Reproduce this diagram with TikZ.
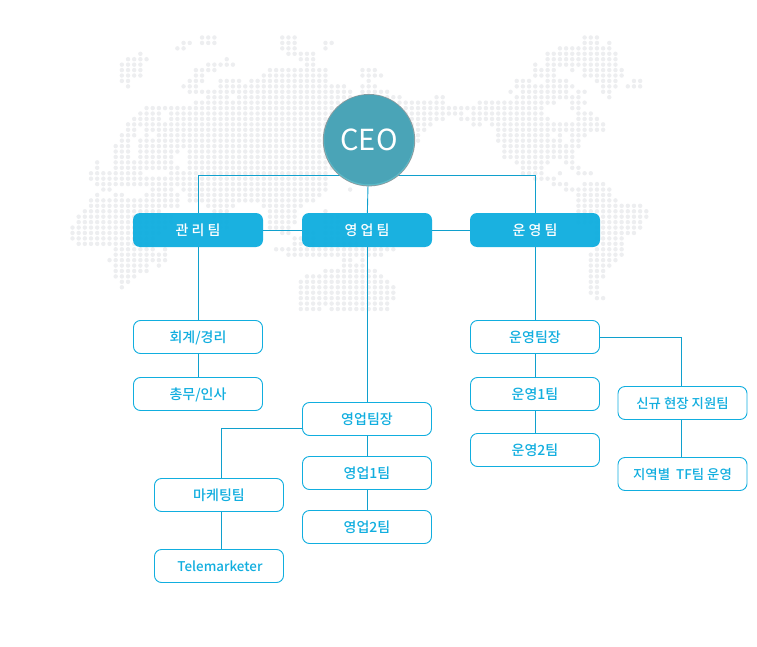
\documentclass[tikz,border=0pt]{standalone}
\usepackage{fontspec}
\setmainfont{Noto Sans CJK KR}
\newfontfamily\medfont{Noto Sans CJK KR Medium}
\usetikzlibrary{backgrounds}
\definecolor{tb}{HTML}{11AEDF}
\definecolor{dotc}{HTML}{EDEEF0}
\definecolor{ceoc}{HTML}{4AA4B7}
\definecolor{ceorim}{HTML}{5BBAC8}
\definecolor{ceoshade}{HTML}{8C9A9E}
\tikzset{
  x=1pt,y=-1pt,
  headbox/.style={rectangle,rounded corners=7pt,fill=tb,fill opacity=.96,text opacity=1,text=white,minimum width=130pt,minimum height=34pt,inner sep=0pt,text height=12pt,text depth=1pt,font=\fontsize{14}{14}\selectfont\medfont},
  subbox/.style={rectangle,rounded corners=7pt,draw=tb,line width=.9pt,fill=white,text=tb,minimum width=129pt,minimum height=33pt,inner sep=0pt,text height=12pt,text depth=1pt,font=\fontsize{14}{14}\selectfont\medfont},
  widebox/.style={subbox,font=\fontsize{13.4}{14}\selectfont\medfont},
  link/.style={draw=tb!92!black,line width=.9pt},
  ceobox/.style={circle,fill=ceoc,minimum size=89.5pt,inner sep=0pt,text=white,font=\fontsize{29}{29}\selectfont}
}
\begin{document}
\begin{tikzpicture}
\useasboundingbox (0,0) rectangle (757,647);
\node[ceobox] (ceo) at (369,139.5) {CEO};
\node[headbox] (mgmt) at (198,230) {관 리 팀};
\node[headbox] (sales) at (367,230) {영 업 팀};
\node[headbox] (ops) at (535,230) {운 영 팀};
\node[subbox] (acct) at (198,337) {회계/경리};
\node[subbox] (hr) at (198,394) {총무/인사};
\node[subbox] (slead) at (367,419) {영업팀장};
\node[subbox] (s1) at (367,473) {영업1팀};
\node[subbox] (s2) at (367,527) {영업2팀};
\node[subbox] (mkt) at (219,495) {마케팅팀};
\node[widebox] (tele) at (219,566) {\hspace{2pt}Telemarketer};
\node[subbox] (olead) at (535,337) {운영팀장};
\node[subbox] (o1) at (535,394) {운영1팀};
\node[subbox] (o2) at (535,450) {운영2팀};
\node[widebox] (newp) at (682.5,403) {신규 현장 지원팀};
\node[widebox] (tf) at (682.5,474) {지역별\ \ TF팀 운영};
\coordinate (busL) at (198,175);
\coordinate (busR) at (535,175);
\coordinate (sleft) at (302.5,428.5);
\coordinate (mtop) at (221,478.5);
\coordinate (mbot) at (221,511.5);
\coordinate (tetop) at (221,549.5);
\coordinate (oright) at (600,337);
\coordinate (ntop) at (681,386.5);
\coordinate (nbot) at (681,419.5);
\coordinate (tftop) at (681,457.5);
\begin{pgfonlayer}{background}
\foreach \r/\ranges in {
0/{21/23,34/36,83/85},
1/{18/19,21/23,34/36,41/42,83/85,87/87},
2/{17/18,34/36,41/41,79/87},
3/{11/11,35/39,77/88},
4/{9/12,25/25,37/39,77/88},
5/{8/11,22/26,38/39,75/75,77/88},
6/{8/11,20/23,32/41,47/49,75/78,81/81,83/89},
7/{8/11,20/21,31/41,47/50,75/78,83/89},
8/{8/9,19/21,24/27,29/41,48/48,72/74,77/80,85/88,91/92},
9/{9/9,18/20,24/44,47/49,72/81,86/88,90/92},
10/{19/45,47/51,71/71,73/80,82/83,86/87},
11/{22/25,27/45,48/53,59/60,72/82,87/87},
12/{20/60,66/78,81/83},
13/{12/16,17/76,81/82},
14/{11/14,16/63,65/76,82/84},
15/{10/14,16/60,63/77,82/85},
16/{9/14,15/58,65/66,68/86},
17/{9/10,12/12,13/57,69/86},
18/{8/10,12/12,14/56,69/77,79/79,81/83},
19/{8/9,11/13,14/56,69/79,81/82},
20/{7/9,11/46,70/82},
21/{7/9,11/17,19/46,70/81},
22/{7/9,11/16,19/46,70/81},
23/{4/4,7/16,19/46,72/77,80/81},
24/{4/4,7/17,19/46,73/76,81/82},
25/{3/11,16/41,73/76,79/79,82/84},
26/{3/12,13/41,75/78},
27/{4/41,78/80,83/86},
28/{5/6,13/16,18/41,45/45,80/87},
29/{4/4,7/8,12/17,19/40,82/87},
30/{3/8,9/17,19/39,82/88},
31/{3/12,13/17,22/26,31/37,82/92},
32/{2/14,23/25,32/36,41/41,82/93},
33/{1/16,23/25,32/36,41/43,82/93},
34/{1/16,23/25,32/36,41/43,82/92},
35/{0/15,23/25,32/35,41/43,85/92},
36/{0/14,34/35,38/39,41/43,85/91},
37/{0/13,36/39,41/46,85/89},
38/{1/5,6/13,36/39,41/46,85/89},
39/{7/13,15/15,33/46,47/49,50/52,85/89},
40/{7/13,14/15,35/46,47/50,84/89},
41/{6/13,14/15,44/45,47/47,84/88},
42/{7/12,14/14,44/47,84/87},
43/{7/12,41/47,48/49,84/86},
44/{7/10,38/50,84/86},
45/{8/9,37/51,84/85},
46/{8/8,37/52,84/85},
47/{37/52,84/85},
48/{37/52,85/86},
49/{37/51},
50/{37/40,42/51}}
{
  \foreach \a/\b in \ranges {
    \foreach \k in {\a,...,\b}
      \fill[dotc] ({72.5+6.17*\k},{37.5+5.43*\r}) circle (2.25);
  }
}
\draw[link] (busL) -- (busR);
\draw[link] (busL) -- (mgmt.north);
\draw[link] (busR) -- (ops.north);
\draw[link] (ceo) -- (sales);
\draw[link] (mgmt.east) -- (sales.west);
\draw[link] (sales.east) -- (ops.west);
\draw[link] (mgmt.south) -- (acct.north);
\draw[link] (acct.south) -- (hr.north);
\draw[link] (sales.south) -- (slead.north);
\draw[link] (slead.south) -- (s1.north);
\draw[link] (s1.south) -- (s2.north);
\draw[link] (sleft) -| (mtop);
\draw[link] (mbot) -- (tetop);
\draw[link] (ops.south) -- (olead.north);
\draw[link] (olead.south) -- (o1.north);
\draw[link] (o1.south) -- (o2.north);
\draw[link] (oright) -| (ntop);
\draw[link] (nbot) -- (tftop);
\fill[ceoshade] (369,140.2) circle (46.2);
\fill[ceorim] (369,140.4) circle (45.2);
\end{pgfonlayer}
\end{tikzpicture}
\end{document}
